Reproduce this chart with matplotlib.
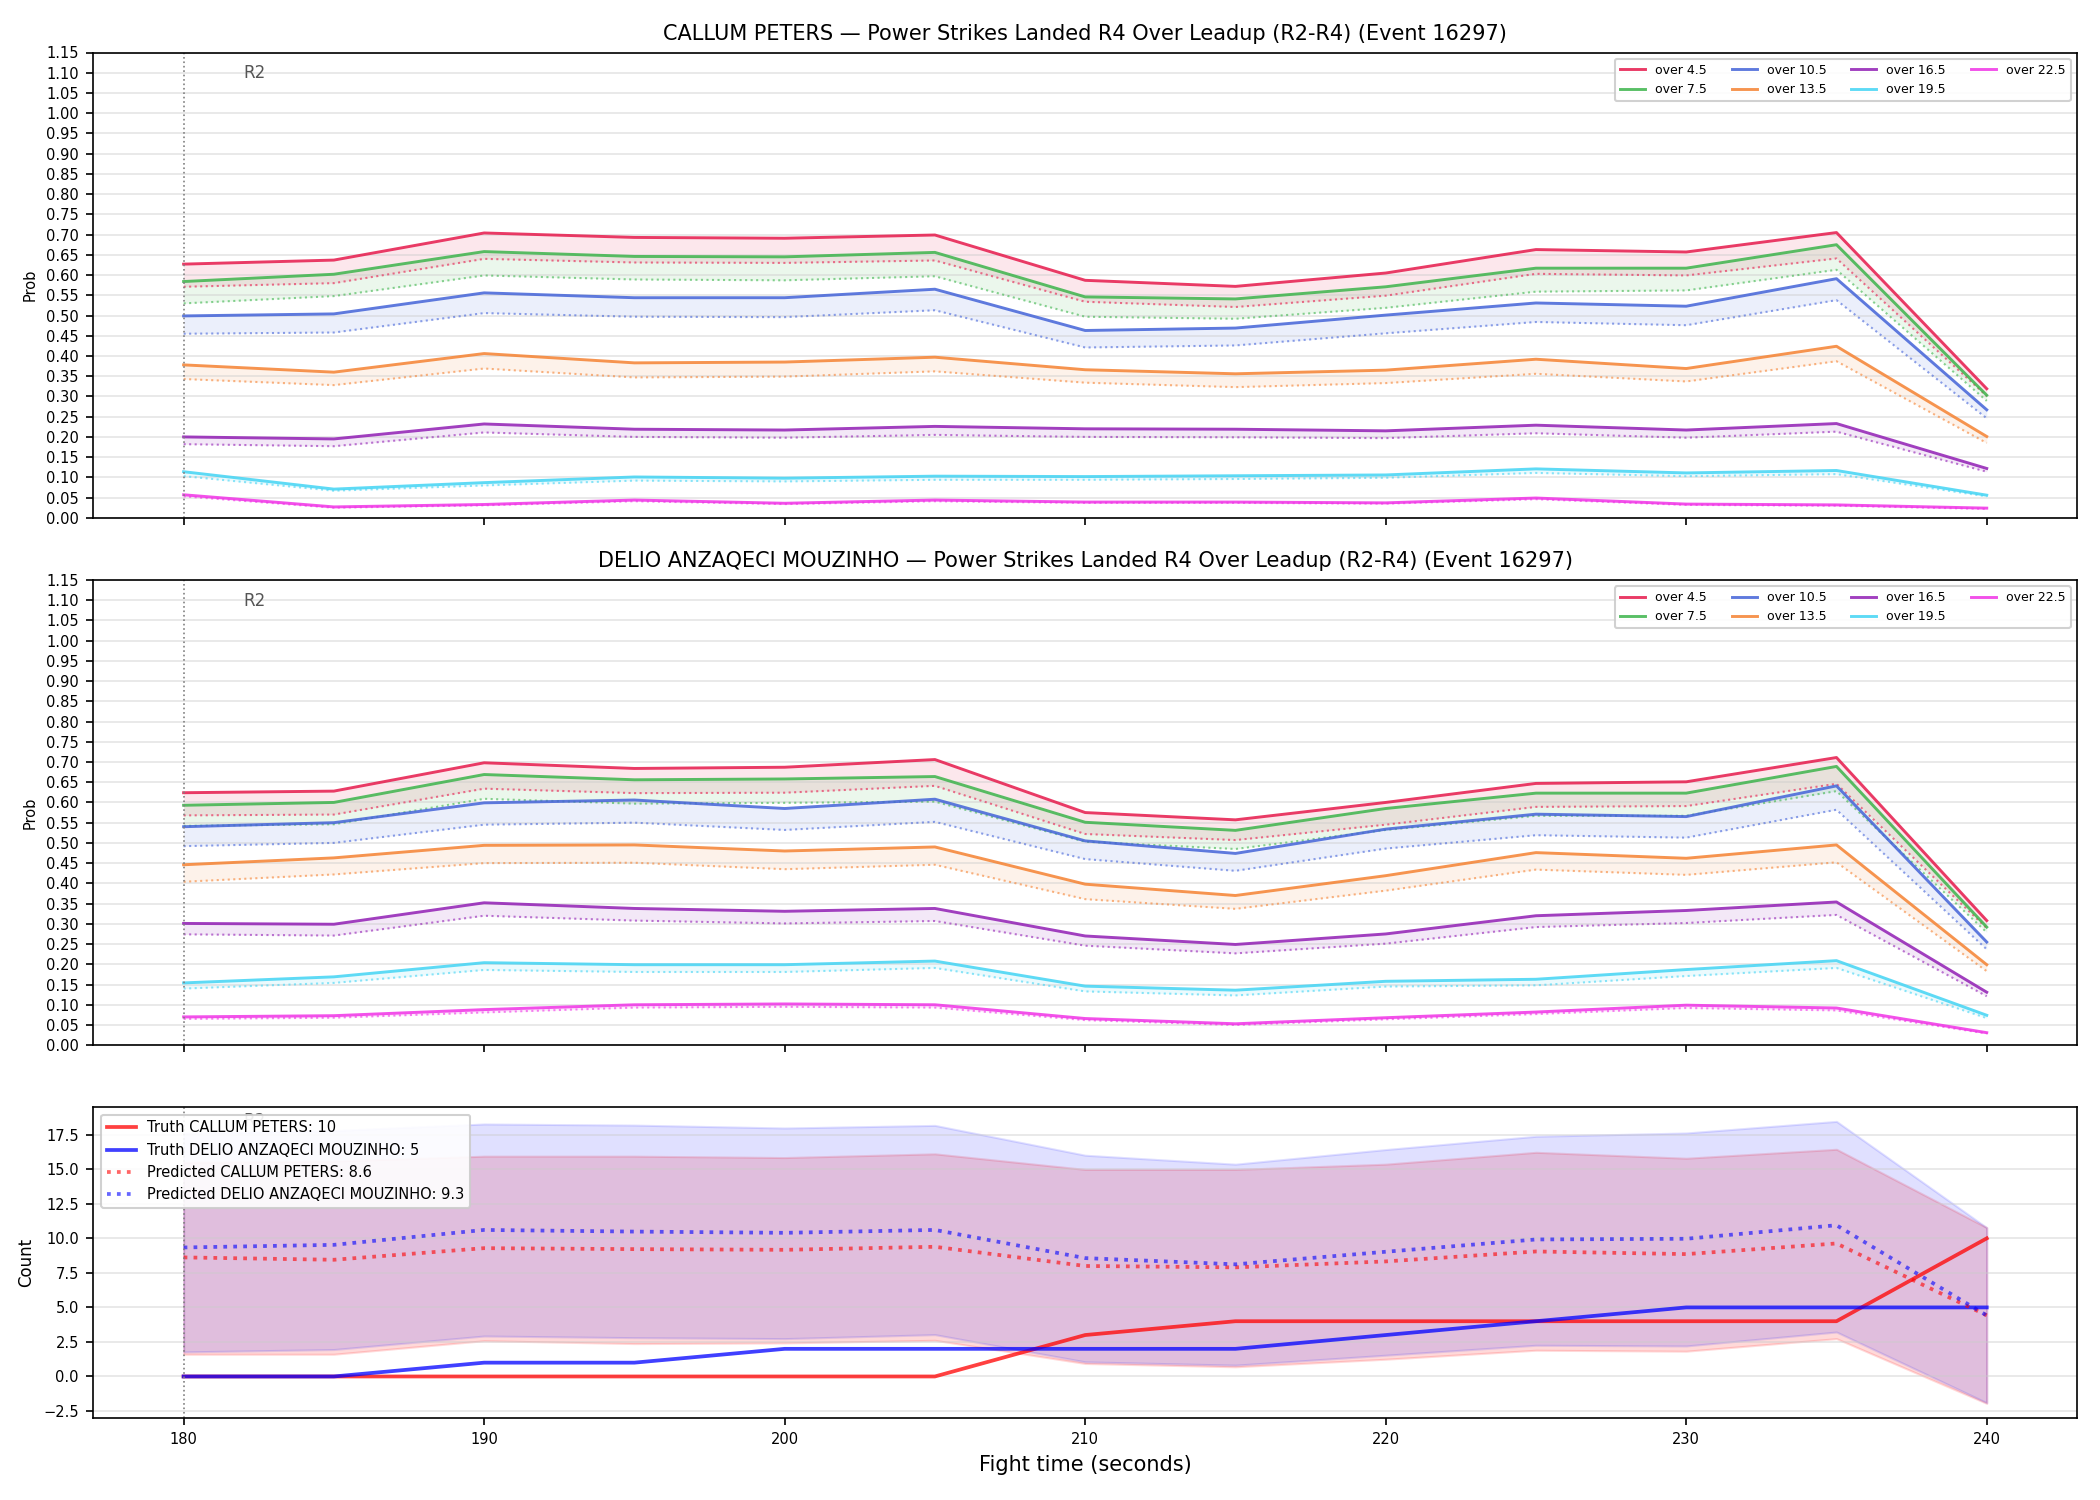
import numpy as np
import matplotlib
matplotlib.use("Agg")
import matplotlib.pyplot as plt

# fight time (seconds)
times = [180, 185, 190, 195, 200, 205, 210, 215, 220, 225, 230, 235, 240]

thresholds = ["over 4.5", "over 7.5", "over 10.5", "over 13.5", "over 16.5", "over 19.5", "over 22.5"]
colors = ["#e6194b", "#3cb44b", "#4363d8", "#f58231", "#911eb4", "#42d4f4", "#f032e6"]

# CALLUM PETERS: upper (solid) and lower (dotted) probabilities
peters_hi = [
    [0.627, 0.637, 0.704, 0.693, 0.691, 0.699, 0.587, 0.572, 0.605, 0.663, 0.657, 0.705, 0.319],
    [0.584, 0.602, 0.658, 0.646, 0.645, 0.656, 0.546, 0.541, 0.571, 0.617, 0.617, 0.675, 0.303],
    [0.499, 0.504, 0.556, 0.544, 0.544, 0.565, 0.463, 0.469, 0.501, 0.531, 0.523, 0.591, 0.267],
    [0.378, 0.360, 0.406, 0.383, 0.385, 0.397, 0.366, 0.356, 0.365, 0.392, 0.369, 0.424, 0.201],
    [0.200, 0.195, 0.232, 0.219, 0.217, 0.226, 0.220, 0.219, 0.215, 0.229, 0.217, 0.233, 0.122],
    [0.114, 0.071, 0.087, 0.101, 0.098, 0.103, 0.102, 0.104, 0.106, 0.121, 0.111, 0.117, 0.056],
    [0.057, 0.027, 0.033, 0.044, 0.036, 0.044, 0.039, 0.039, 0.037, 0.049, 0.034, 0.032, 0.024],
]
peters_lo = [
    [0.571, 0.580, 0.640, 0.631, 0.630, 0.636, 0.534, 0.521, 0.549, 0.603, 0.599, 0.641, 0.301],
    [0.530, 0.548, 0.599, 0.589, 0.587, 0.597, 0.497, 0.492, 0.519, 0.559, 0.562, 0.613, 0.289],
    [0.455, 0.458, 0.506, 0.497, 0.496, 0.513, 0.421, 0.426, 0.456, 0.484, 0.476, 0.538, 0.246],
    [0.343, 0.328, 0.369, 0.347, 0.349, 0.362, 0.334, 0.323, 0.333, 0.356, 0.337, 0.387, 0.185],
    [0.182, 0.177, 0.211, 0.200, 0.198, 0.205, 0.200, 0.199, 0.197, 0.209, 0.198, 0.213, 0.114],
    [0.103, 0.067, 0.080, 0.092, 0.090, 0.094, 0.094, 0.096, 0.099, 0.111, 0.103, 0.108, 0.053],
    [0.053, 0.025, 0.031, 0.041, 0.034, 0.041, 0.037, 0.037, 0.035, 0.046, 0.032, 0.030, 0.022],
]

# DELIO ANZAQECI MOUZINHO
delio_hi = [
    [0.624, 0.628, 0.698, 0.684, 0.687, 0.706, 0.575, 0.557, 0.600, 0.647, 0.651, 0.711, 0.308],
    [0.593, 0.600, 0.669, 0.656, 0.658, 0.664, 0.551, 0.531, 0.585, 0.623, 0.623, 0.689, 0.292],
    [0.540, 0.550, 0.599, 0.606, 0.585, 0.608, 0.505, 0.474, 0.534, 0.571, 0.565, 0.641, 0.255],
    [0.446, 0.463, 0.494, 0.495, 0.480, 0.490, 0.398, 0.370, 0.419, 0.476, 0.462, 0.495, 0.199],
    [0.301, 0.299, 0.352, 0.338, 0.331, 0.338, 0.270, 0.249, 0.275, 0.320, 0.333, 0.354, 0.131],
    [0.154, 0.169, 0.204, 0.199, 0.199, 0.208, 0.146, 0.136, 0.158, 0.163, 0.187, 0.209, 0.074],
    [0.070, 0.073, 0.088, 0.100, 0.102, 0.100, 0.066, 0.053, 0.068, 0.082, 0.099, 0.092, 0.031],
]
delio_lo = [
    [0.568, 0.570, 0.634, 0.623, 0.624, 0.641, 0.522, 0.507, 0.545, 0.589, 0.591, 0.646, 0.289],
    [0.542, 0.546, 0.609, 0.597, 0.599, 0.602, 0.503, 0.485, 0.532, 0.567, 0.567, 0.628, 0.279],
    [0.492, 0.500, 0.545, 0.550, 0.532, 0.552, 0.460, 0.431, 0.486, 0.519, 0.513, 0.582, 0.237],
    [0.404, 0.422, 0.450, 0.451, 0.435, 0.446, 0.361, 0.337, 0.382, 0.434, 0.421, 0.452, 0.183],
    [0.274, 0.271, 0.320, 0.308, 0.301, 0.307, 0.246, 0.227, 0.251, 0.292, 0.302, 0.322, 0.121],
    [0.140, 0.154, 0.186, 0.181, 0.181, 0.191, 0.133, 0.123, 0.145, 0.148, 0.171, 0.191, 0.067],
    [0.065, 0.068, 0.081, 0.093, 0.095, 0.093, 0.062, 0.050, 0.064, 0.077, 0.092, 0.086, 0.029],
]

# counts
truth_peters = [0, 0, 0, 0, 0, 0, 3, 4, 4, 4, 4, 4, 10]
truth_delio = [0, 0, 1, 1, 2, 2, 2, 2, 3, 4, 5, 5, 5]
pred_peters = [8.62, 8.45, 9.29, 9.22, 9.17, 9.39, 8.00, 7.90, 8.33, 9.05, 8.86, 9.63, 4.42]
pred_delio = [9.34, 9.53, 10.61, 10.49, 10.40, 10.61, 8.57, 8.12, 9.03, 9.92, 9.97, 10.95, 4.42]
peters_band_lo = [1.61, 1.61, 2.59, 2.38, 2.43, 2.62, 0.94, 0.70, 1.25, 1.90, 1.83, 2.74, -1.95]
peters_band_hi = [15.5, 15.6, 15.95, 15.95, 15.85, 16.12, 14.99, 14.99, 15.37, 16.23, 15.80, 16.45, 10.78]
delio_band_lo = [1.78, 1.95, 2.93, 2.81, 2.74, 3.03, 1.06, 0.82, 1.54, 2.26, 2.21, 3.22, -1.90]
delio_band_hi = [17.6, 17.8, 18.28, 18.2, 17.99, 18.18, 16.02, 15.37, 16.43, 17.39, 17.63, 18.47, 10.78]

event = "Event 16297"
market = "Power Strikes Landed R4 Over Leadup (R2-R4)"


def plot_probs(ax, name, hi, lo):
    for label, color, h, l in zip(thresholds, colors, hi, lo):
        ax.plot(times, h, color=color, lw=1.4, alpha=0.85, label=label)
        ax.plot(times, l, color=color, lw=1.0, ls=":", alpha=0.6)
        ax.fill_between(times, l, h, color=color, alpha=0.1, lw=0)
    ax.set_ylim(0, 1.15)
    ax.set_yticks(np.arange(0, 1.151, 0.05))
    ax.set_ylabel("Prob", fontsize=7)
    ax.set_title(f"{name} \u2014 {market} ({event})", fontsize=10)
    ax.grid(axis="y", color="#cccccc", alpha=0.5, lw=0.8)
    ax.axvline(180, color="gray", ls=":", lw=0.8)
    ax.text(182, 0.955, "R2", transform=ax.get_xaxis_transform(), color="#555555",
            fontsize=8, va="center", ha="left")
    ax.legend(loc="upper right", ncol=4, fontsize=6, framealpha=0.9)
    ax.tick_params(labelsize=7)
    ax.tick_params(axis="x", labelbottom=False)


fig, axes = plt.subplots(3, 1, figsize=(14, 10), dpi=150, sharex=True,
                         gridspec_kw={"height_ratios": [3, 3, 2]})
fig.subplots_adjust(left=0.0445, right=0.989, top=0.965, bottom=0.055, hspace=0.15)

plot_probs(axes[0], "CALLUM PETERS", peters_hi, peters_lo)
plot_probs(axes[1], "DELIO ANZAQECI MOUZINHO", delio_hi, delio_lo)

ax = axes[2]
ax.fill_between(times, peters_band_lo, peters_band_hi, color="red", alpha=0.15, lw=1)
ax.fill_between(times, delio_band_lo, delio_band_hi, color="blue", alpha=0.12, lw=1)
ax.plot(times, truth_peters, color="red", lw=1.8, alpha=0.75,
        label=f"Truth CALLUM PETERS: {truth_peters[-1]}")
ax.plot(times, truth_delio, color="blue", lw=1.8, alpha=0.75,
        label=f"Truth DELIO ANZAQECI MOUZINHO: {truth_delio[-1]}")
ax.plot(times, pred_peters, color="red", lw=1.8, ls=":", alpha=0.6,
        label=f"Predicted CALLUM PETERS: {pred_peters[0]:.1f}")
ax.plot(times, pred_delio, color="blue", lw=1.8, ls=":", alpha=0.6,
        label=f"Predicted DELIO ANZAQECI MOUZINHO: {pred_delio[0]:.1f}")
ax.axvline(180, color="gray", ls=":", lw=0.8)
ax.text(182, 0.955, "R2", transform=ax.get_xaxis_transform(), color="#555555",
        fontsize=8, va="center", ha="left")
ax.set_ylabel("Count", fontsize=8)
ax.set_xlabel("Fight time (seconds)", fontsize=10)
ax.grid(axis="y", color="#cccccc", alpha=0.5, lw=0.8)
ax.legend(loc="upper left", fontsize=7, framealpha=0.9)
ax.tick_params(labelsize=7)
ax.set_xticks([180, 190, 200, 210, 220, 230, 240])

fig.savefig("out.png", dpi=150)
